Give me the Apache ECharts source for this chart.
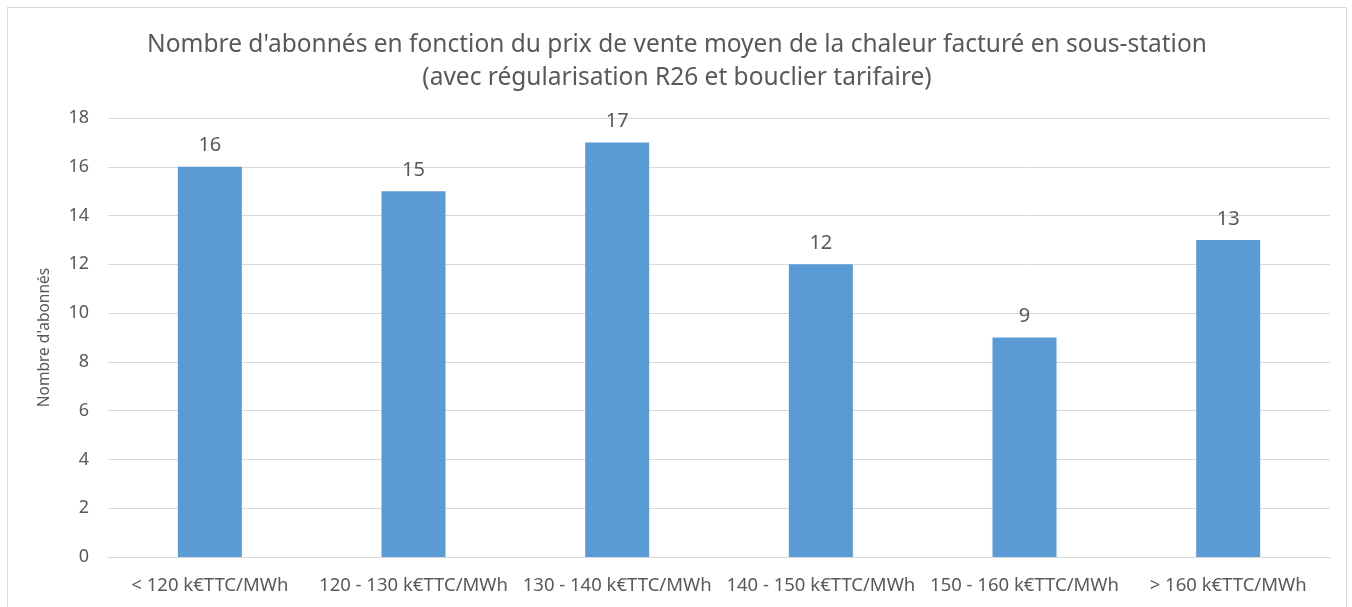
<!DOCTYPE html>
<html>
<head>
<meta charset="utf-8">
<script src="https://cdn.jsdelivr.net/npm/echarts@6/dist/echarts.min.js"></script>
<style>
  html, body { margin: 0; padding: 0; background: #fff; }
  #chart {
    position: absolute;
    left: 7px;
    top: 7px;
    width: 1340px;
    height: 610px;
    border: 1px solid #d9d9d9;
    box-sizing: border-box;
  }
</style>
</head>
<body>
<div id="chart"></div>
<script>
const categories = [
  '< 120 k€TTC/MWh',
  '120 - 130 k€TTC/MWh',
  '130 - 140 k€TTC/MWh',
  '140 - 150 k€TTC/MWh',
  '150 - 160 k€TTC/MWh',
  '> 160 k€TTC/MWh',
]
const abonnes = [16, 15, 17, 12, 9, 13]

const font = 'Noto Sans'
const grey = '#595959'

const chart = echarts.init(document.getElementById('chart'))
chart.setOption({
  animation: false,
  title: {
    text: "Nombre d'abonnés en fonction du prix de vente moyen de la chaleur facturé en sous-station\n(avec régularisation R26 et bouclier tarifaire)",
    left: 'center',
    top: 16,
    textStyle: {
      fontFamily: font,
      fontSize: 24.5,
      fontWeight: 'normal',
      color: grey,
      lineHeight: 33,
    },
  },
  grid: {
    left: 100,
    right: 16,
    top: 110,
    bottom: 59,
  },
  xAxis: {
    type: 'category',
    data: categories,
    axisLine: { lineStyle: { color: '#d9d9d9' } },
    axisTick: { show: false },
    axisLabel: {
      interval: 0,
      fontFamily: font,
      fontSize: 18.5,
      color: grey,
      margin: 19,
    },
  },
  yAxis: {
    type: 'value',
    min: 0,
    max: 18,
    interval: 2,
    name: "Nombre d'abonnés",
    nameLocation: 'middle',
    nameGap: 55,
    nameTextStyle: {
      fontFamily: font,
      fontSize: 15.5,
      color: grey,
    },
    axisLine: { show: false },
    axisTick: { show: false },
    axisLabel: {
      fontFamily: font,
      fontSize: 18,
      color: grey,
      margin: 19,
    },
    splitLine: { lineStyle: { color: '#d9d9d9' } },
  },
  series: [{
    type: 'bar',
    data: abonnes,
    barWidth: 64,
    itemStyle: { color: '#5b9bd5' },
    label: {
      show: true,
      position: 'top',
      distance: 11,
      fontFamily: font,
      fontSize: 20,
      color: grey,
    },
  }],
})
</script>
</body>
</html>
